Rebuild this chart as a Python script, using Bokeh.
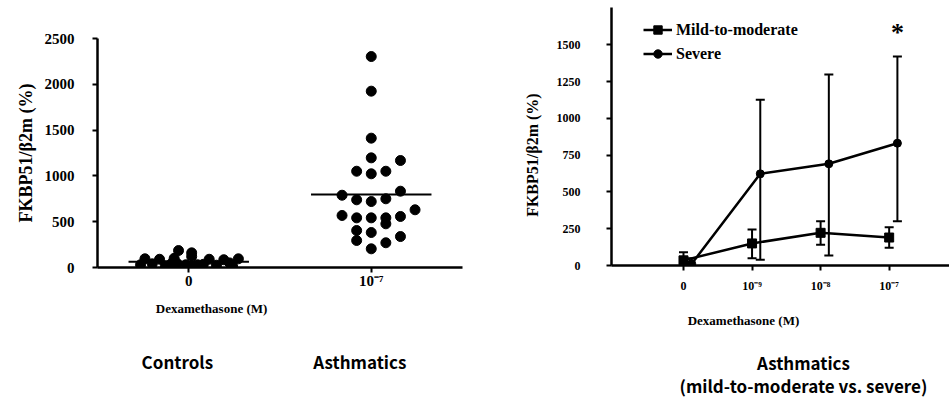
import numpy as np
from bokeh.plotting import figure
from bokeh.layouts import row
from bokeh.models import (ColumnDataSource, FixedTicker, LinearAxis, Whisker, TeeHead)
from bokeh.core.properties import value
from bokeh.embed import file_html
from bokeh.resources import INLINE

# ---------------- data: left panel (scatter) ----------------
group_positions = [1, 2]
group_tick_labels = ["0", "10\u207b\u2077"]
group_captions = ["Controls", "Asthmatics"]

controls_values = [95, 90, 100, 185, 160, 120, 90, 85, 95,
                   30, 40, 20, 45, 10, 30, 35, 25, 50, 15, 40, 5, 30]
controls_slots = [-3, -2, -1, -0.7, 0.2, 0.2, 1.4, 2.4, 3.4,
                  -3.3, -2.5, -1.6, -0.8, 0, 0.6, 1, 1.9, 2.8, 3, -1.2, 0.3, -0.2]

asthma_values = [2303, 1925, 1412, 1197, 1168, 1051, 1023, 1051, 789, 833,
                 739, 720, 750, 630, 568, 542, 542, 542, 477, 557,
                 404, 382, 295, 338, 270, 204]
asthma_slots = [0, 0, 0, 0, 2, -1, 0, 1, -2, 2,
                -1, 0, 1, 3, -2, -1, 0, 1, 1, 2,
                -1, 0, -1, 2, 1, 0]

left_y_ticks = [0, 500, 1000, 1500, 2000, 2500]

# ---------------- data: right panel (lines + error bars) ----------------
dose_positions = [0, 1, 2, 3]
dose_labels = ["0", "10\u207b\u2079", "10\u207b\u2078", "10\u207b\u2077"]
mild_mean = [35, 150, 222, 190]
mild_upper = [90, 245, 301, 260]
mild_lower = [0, 50, 141, 120]
severe_mean = [12, 623, 691, 831]
severe_upper = [50, 1126, 1298, 1420]
severe_lower = [0, 39, 68, 301]
right_y_ticks = [0, 250, 500, 750, 1000, 1250, 1500]

# ---------------- styles ----------------
SERIF = "Liberation Serif"
SANS = "Noto Sans CJK KR"
SLOT = 0.08
SEVERE_SHIFT = 0.12


def style_axis(ax, size):
    ax.axis_line_width = 2.5
    ax.axis_line_color = "black"
    ax.major_tick_line_width = 2
    ax.major_tick_in = 0
    ax.major_tick_out = 5
    ax.minor_tick_line_color = None
    ax.major_label_text_font = SERIF
    ax.major_label_text_font_style = "bold"
    ax.major_label_text_font_size = size
    ax.major_label_text_color = "black"
    ax.axis_label_text_font = SERIF
    ax.axis_label_text_font_style = "bold"
    ax.axis_label_text_color = "black"


def text_axis(p, ticks, labels, font, size, standoff, where="below", orientation="horizontal",
              style="bold", line_height=1.2):
    ax = LinearAxis(ticker=FixedTicker(ticks=ticks),
                    major_label_overrides={t: l for t, l in zip(ticks, labels)})
    ax.axis_line_color = None
    ax.major_tick_line_color = None
    ax.minor_tick_line_color = None
    ax.major_tick_out = 0
    ax.major_tick_in = 0
    ax.major_label_standoff = standoff
    ax.major_label_text_font = font
    ax.major_label_text_font_style = style
    ax.major_label_text_font_size = size
    ax.major_label_text_color = "black"
    ax.major_label_text_line_height = line_height
    ax.major_label_orientation = orientation
    p.add_layout(ax, where)
    return ax


# ================= left figure =================
p1 = figure(frame_width=365, frame_height=229, x_range=(0.5, 2.5), y_range=(0, 2500),
            output_backend="svg", toolbar_location=None, align="start",
            min_border_left=97, min_border_right=38, min_border_top=38, min_border_bottom=131)
p1.frame_align = False
p1.outline_line_color = None
p1.grid.visible = False

cx = [group_positions[0] + s * SLOT for s in controls_slots]
ax_ = [group_positions[1] + s * SLOT for s in asthma_slots]
p1.scatter(cx, controls_values, size=10, color="black")
p1.scatter(ax_, asthma_values, size=10, color="black")

means = [float(np.mean(controls_values)), float(np.mean(asthma_values))]
half = 0.33
p1.segment(x0=[g - half for g in group_positions], x1=[g + half for g in group_positions],
           y0=means, y1=means, line_color="black", line_width=2)

style_axis(p1.xaxis[0], "15px")
p1.xaxis[0].ticker = FixedTicker(ticks=group_positions)
p1.xaxis[0].major_label_overrides = {g: l for g, l in zip(group_positions, group_tick_labels)}
p1.xaxis[0].major_label_standoff = 0

style_axis(p1.yaxis[0], "15px")
p1.yaxis[0].ticker = FixedTicker(ticks=left_y_ticks)
p1.yaxis[0].major_label_standoff = 18
p1.yaxis[0].axis_label = "FKBP51/\u03b22m (%)"
p1.yaxis[0].axis_label_text_font_size = "18px"
p1.yaxis[0].axis_label_standoff = 6

text_axis(p1, [1.125], ["Dexamethasone (M)"], SERIF, "13px", 9)
text_axis(p1, [0.9375, 1.9375], group_captions, SANS, "17px", 30)

# ================= right figure =================
p2 = figure(frame_width=338, frame_height=258, x_range=(-1.05, 3.88), y_range=(0, 1753),
            output_backend="svg", toolbar_location=None, align="start",
            min_border_left=111, min_border_right=0, min_border_top=7, min_border_bottom=133)
p2.frame_align = False
p2.outline_line_color = None
p2.grid.visible = False

sx = [d + SEVERE_SHIFT for d in dose_positions]
mild_src = ColumnDataSource(dict(x=dose_positions, y=mild_mean, hi=mild_upper, lo=mild_lower))
sev_src = ColumnDataSource(dict(x=sx, y=severe_mean, hi=severe_upper, lo=severe_lower))

for src in (sev_src, mild_src):
    w = Whisker(base="x", upper="hi", lower="lo", source=src, line_width=2, line_color="black",
                upper_head=TeeHead(size=9, line_width=2, line_color="black"),
                lower_head=TeeHead(size=9, line_width=2, line_color="black"))
    p2.add_layout(w)

p2.line("x", "y", source=mild_src, line_width=2.5, color="black", legend_label="Mild-to-moderate")
p2.scatter("x", "y", source=mild_src, marker="square", size=9, color="black", legend_label="Mild-to-moderate")
p2.line("x", "y", source=sev_src, line_width=2.5, color="black", legend_label="Severe")
p2.scatter("x", "y", source=sev_src, marker="circle", size=8, color="black", legend_label="Severe")

p2.text(x=[sx[3]], y=[severe_upper[3]], text=["*"], y_offset=-24,
        text_font=value(SERIF), text_font_style="bold", text_font_size="26px",
        text_align="center", text_baseline="middle", text_color="black")

style_axis(p2.xaxis[0], "12px")
p2.xaxis[0].ticker = FixedTicker(ticks=dose_positions)
p2.xaxis[0].major_label_overrides = {d: l for d, l in zip(dose_positions, dose_labels)}
p2.xaxis[0].major_label_standoff = 8

style_axis(p2.yaxis[0], "12px")
p2.yaxis[0].ticker = FixedTicker(ticks=right_y_ticks)
p2.yaxis[0].major_label_standoff = 26

text_axis(p2, [750], ["FKBP51/\u03b22m (%)"], SERIF, "16px", 12, where="left", orientation="vertical")
text_axis(p2, [0.875], ["Dexamethasone (M)"], SERIF, "13px", 17)
text_axis(p2, [1.75], ["Asthmatics\n(mild-to-moderate vs. severe)"], SANS, "17px", 19, line_height=0.95)

lg = p2.legend[0]
lg.location = (32, 201)
lg.background_fill_alpha = 0
lg.border_line_color = None
lg.padding = 0
lg.margin = 0
lg.spacing = 3
lg.glyph_width = 29
lg.glyph_height = 21
lg.label_height = 21
lg.label_standoff = 4
lg.label_text_font = SERIF
lg.label_text_font_style = "bold"
lg.label_text_font_size = "16px"
lg.label_text_color = "black"

layout = row(p1, p2)
open("out.html", "w").write(file_html(layout, INLINE))
